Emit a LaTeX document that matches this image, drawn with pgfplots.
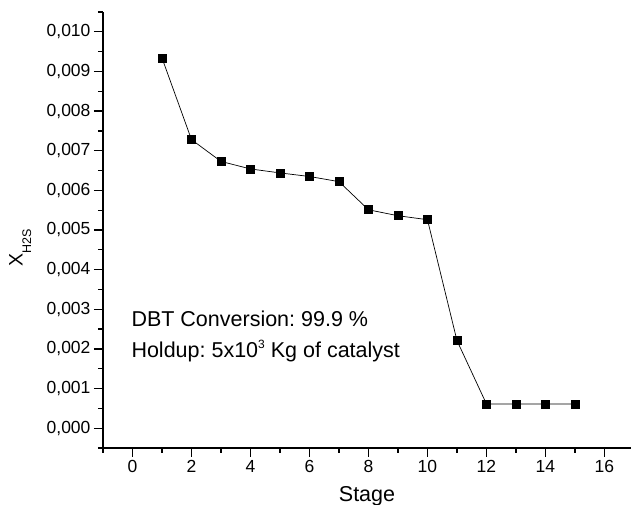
\documentclass[border=0pt]{standalone}
\usepackage{pgfplots}
\pgfplotsset{compat=1.18}
\usepackage{fontspec}
\setmainfont{Liberation Sans}
\frenchspacing
\begin{document}
\begin{tikzpicture}[x=1pt,y=1pt]
\useasboundingbox (0,0) rectangle (631,505);
\begin{axis}[
  at={(103pt,57pt)}, anchor=south west,
  scale only axis,
  width=528pt, height=436pt,
  xmin=-1, xmax=16.9,
  ymin=-0.0005, ymax=0.0105,
  axis lines*=left,
  axis line style={line width=1.6pt, -},
  tick style={line width=1.3pt, black},
  tick align=outside,
  major tick length=9pt,
  minor tick length=5pt,
  xtick={0,2,4,6,8,10,12,14,16},
  minor xtick={-1,1,3,5,7,9,11,13,15},
  ytick={0,0.001,0.002,0.003,0.004,0.005,0.006,0.007,0.008,0.009,0.010},
  minor ytick={-0.0005,0.0005,0.0015,0.0025,0.0035,0.0045,0.0055,0.0065,0.0075,0.0085,0.0095,0.0105},
  scaled y ticks=false,
  yticklabel={\pgfmathprintnumber[fixed, fixed zerofill, precision=3, use comma, assume math mode=true]{\tick}},
  xticklabel={\pgfmathprintnumber[assume math mode=true]{\tick}},
  tick label style={font=\fontsize{17.5}{20}\selectfont},
  xlabel={Stage},
  xlabel style={font=\fontsize{21.5}{24}\selectfont, at={(axis description cs:0.5,-0.123)}, anchor=base},
  ylabel={{\fontsize{19.5}{22}\selectfont X}\raisebox{-8.5pt}{\fontsize{12.5}{14}\selectfont H2S}},
  ylabel style={at={(axis description cs:-0.157,0.459)}, anchor=center, rotate=0},
  clip=false,
]
\addplot[black, line width=0.7pt, mark=square*, mark size=4pt, mark options={solid, fill=black}] coordinates {
(1,0.00934) (2,0.00728) (3,0.00673) (4,0.00654) (5,0.00644) (6,0.00635) (7,0.00622) (8,0.00551) (9,0.00536) (10,0.00526) (11,0.00221) (12,0.00061) (13,0.00061) (14,0.00061) (15,0.00061)
};
\node[anchor=base west, inner sep=0pt, font=\fontsize{21.5}{24}\selectfont] at (axis cs:-0.04,0.002555) {DBT Conversion: 99.9 \%};
\node[anchor=base west, inner sep=0pt, font=\fontsize{21.5}{24}\selectfont] at (axis cs:-0.04,0.001786) {Holdup: 5x10\raisebox{8.5pt}{\fontsize{12}{13}\selectfont 3} Kg of catalyst};
\end{axis}
\end{tikzpicture}
\end{document}
